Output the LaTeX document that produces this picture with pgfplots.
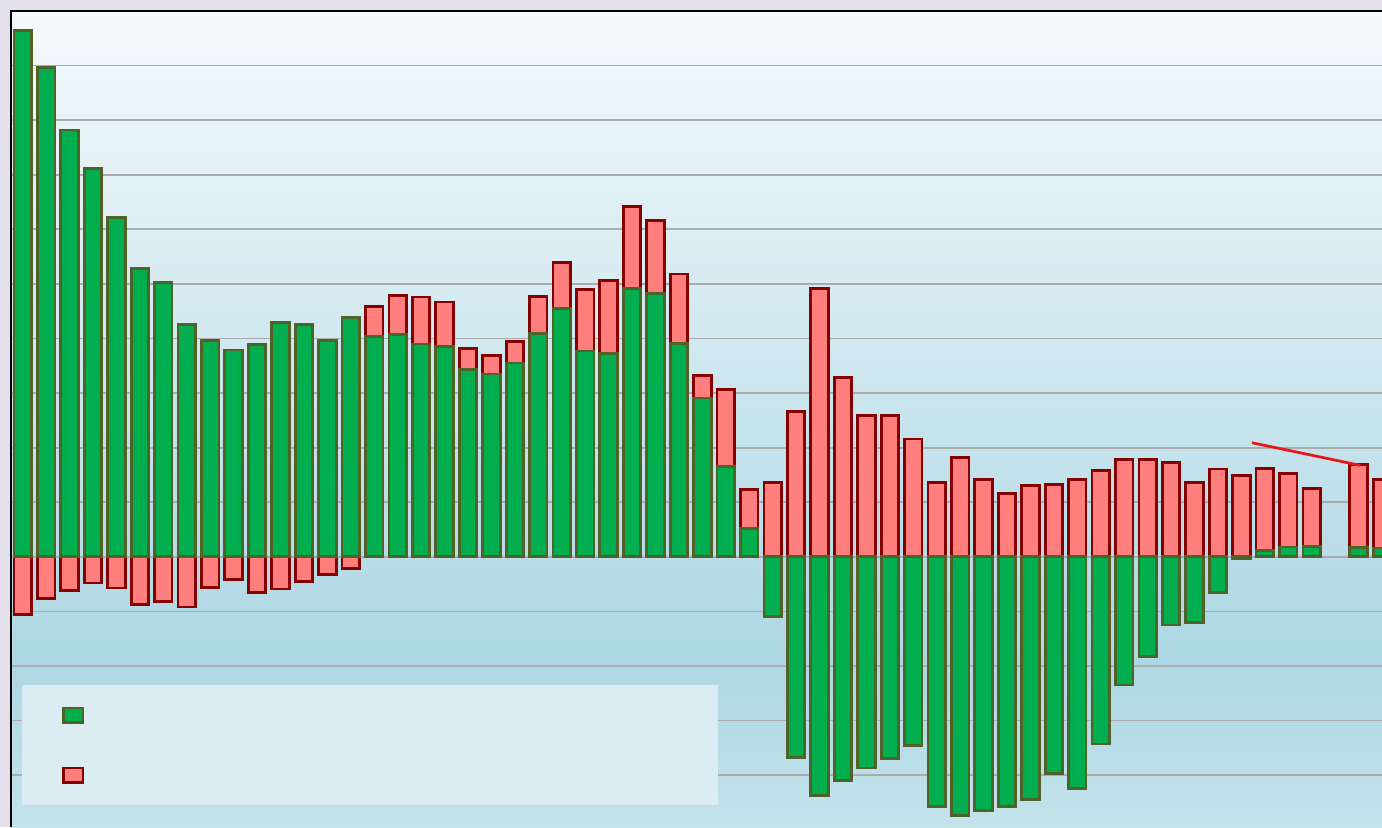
\documentclass[border=0pt]{standalone}
\usepackage{pgfplots}
\usepackage{pgfplotstable}
\pgfplotsset{compat=1.18}
\definecolor{outerbg}{HTML}{E5E1EC}
\definecolor{bgtop}{HTML}{F5FAFC}
\definecolor{bgmid}{HTML}{ADD7E4}
\definecolor{bgbot}{HTML}{C4E3EB}
\definecolor{gfill}{HTML}{00AE4F}
\definecolor{gedge}{HTML}{4F6228}
\definecolor{rfill}{HTML}{FF7F7F}
\definecolor{redge}{HTML}{850000}
\definecolor{legbg}{HTML}{DBEDF3}
\definecolor{gridc}{HTML}{ABABAB}
\definecolor{linered}{HTML}{E8151B}
% x = category, g = green series, r = red series
\pgfplotstableread{
x g r
0 9.65 -1.06
1 8.97 -0.76
2 7.82 -0.61
3 7.12 -0.48
4 6.21 -0.57
5 5.28 -0.88
6 5.02 -0.82
7 4.26 -0.92
8 3.96 -0.56
9 3.79 -0.42
10 3.89 -0.65
11 4.29 -0.59
12 4.26 -0.45
13 3.97 -0.33
14 4.38 -0.21
15 4.04 0.54
16 4.07 0.72
17 3.90 0.86
18 3.86 0.81
19 3.43 0.38
20 3.35 0.34
21 3.55 0.39
22 4.09 0.68
23 4.55 0.84
24 3.77 1.13
25 3.72 1.34
26 4.92 1.50
27 4.82 1.34
28 3.91 1.27
29 2.91 0.41
30 1.65 1.41
31 0.52 0.71
32 -1.09 1.36
33 -3.67 2.66
34 -4.38 4.91
35 -4.10 3.29
36 -3.87 2.59
37 -3.70 2.59
38 -3.45 2.16
39 -4.58 1.36
40 -4.74 1.82
41 -4.65 1.41
42 -4.58 1.16
43 -4.45 1.30
44 -3.97 1.32
45 -4.24 1.41
46 -3.43 1.58
47 -2.35 1.78
48 -1.82 1.78
49 -1.25 1.73
50 -1.20 1.36
51 -0.65 1.61
52 -0.03 1.49
53 0.11 1.51
54 0.18 1.35
55 0.19 1.06
57 0.17 1.52
58 0.16 1.25
}\datatable
\begin{document}
\begin{tikzpicture}
\path[use as bounding box, fill=outerbg] (0pt,0pt) rectangle (691pt,413.5pt);
\shade[bottom color=bgbot, top color=bgmid] (5.5pt,0pt) rectangle (691pt,83.6pt);
\shade[bottom color=bgmid, top color=bgtop] (5.5pt,83.5pt) rectangle (691pt,408pt);
\begin{axis}[
  at={(5.5pt,0pt)}, anchor=south west,
  scale only axis, width=685.5pt, height=408pt,
  xmin=-0.5, xmax=58, ymin=-4.95, ymax=10,
  ybar stacked, bar width=8.75pt,
  axis line style={draw=none},
  xtick=\empty, ytick={-4,...,9}, yticklabels={}, major tick length=0pt,
  ymajorgrids, grid style={gridc, line width=0.9pt},
  legend image code/.code={\draw[#1] (0.7pt,-3.55pt) rectangle (10.3pt,3.55pt);},
  legend style={at={(0.00802,0.02696)}, anchor=south west, draw=none, fill=legbg,
    inner xsep=20pt, inner ysep=9.8pt, row sep=20pt, column sep=0pt,
    nodes={inner sep=0pt, minimum height=10pt, text width=297pt}},
]
\addplot[fill=gfill, draw=gedge, line width=1.4pt] table[x=x, y=g] {\datatable};
\addlegendentry{}
\addplot[fill=rfill, draw=redge, line width=1.4pt] table[x=x, y=r] {\datatable};
\addlegendentry{}
\end{axis}
\begin{axis}[
  at={(5.5pt,0pt)}, anchor=south west,
  scale only axis, width=685.5pt, height=408pt,
  xmin=-0.5, xmax=58, ymin=-4.95, ymax=10,
  hide axis,
]
\addplot[no marks, color=linered, line width=1.35pt] coordinates {(52.45,2.09) (57.08,1.675)};
\end{axis}
\draw[black, line width=1pt] (5.5pt,0pt) -- (5.5pt,408pt) -- (691pt,408pt);
\end{tikzpicture}
\end{document}
